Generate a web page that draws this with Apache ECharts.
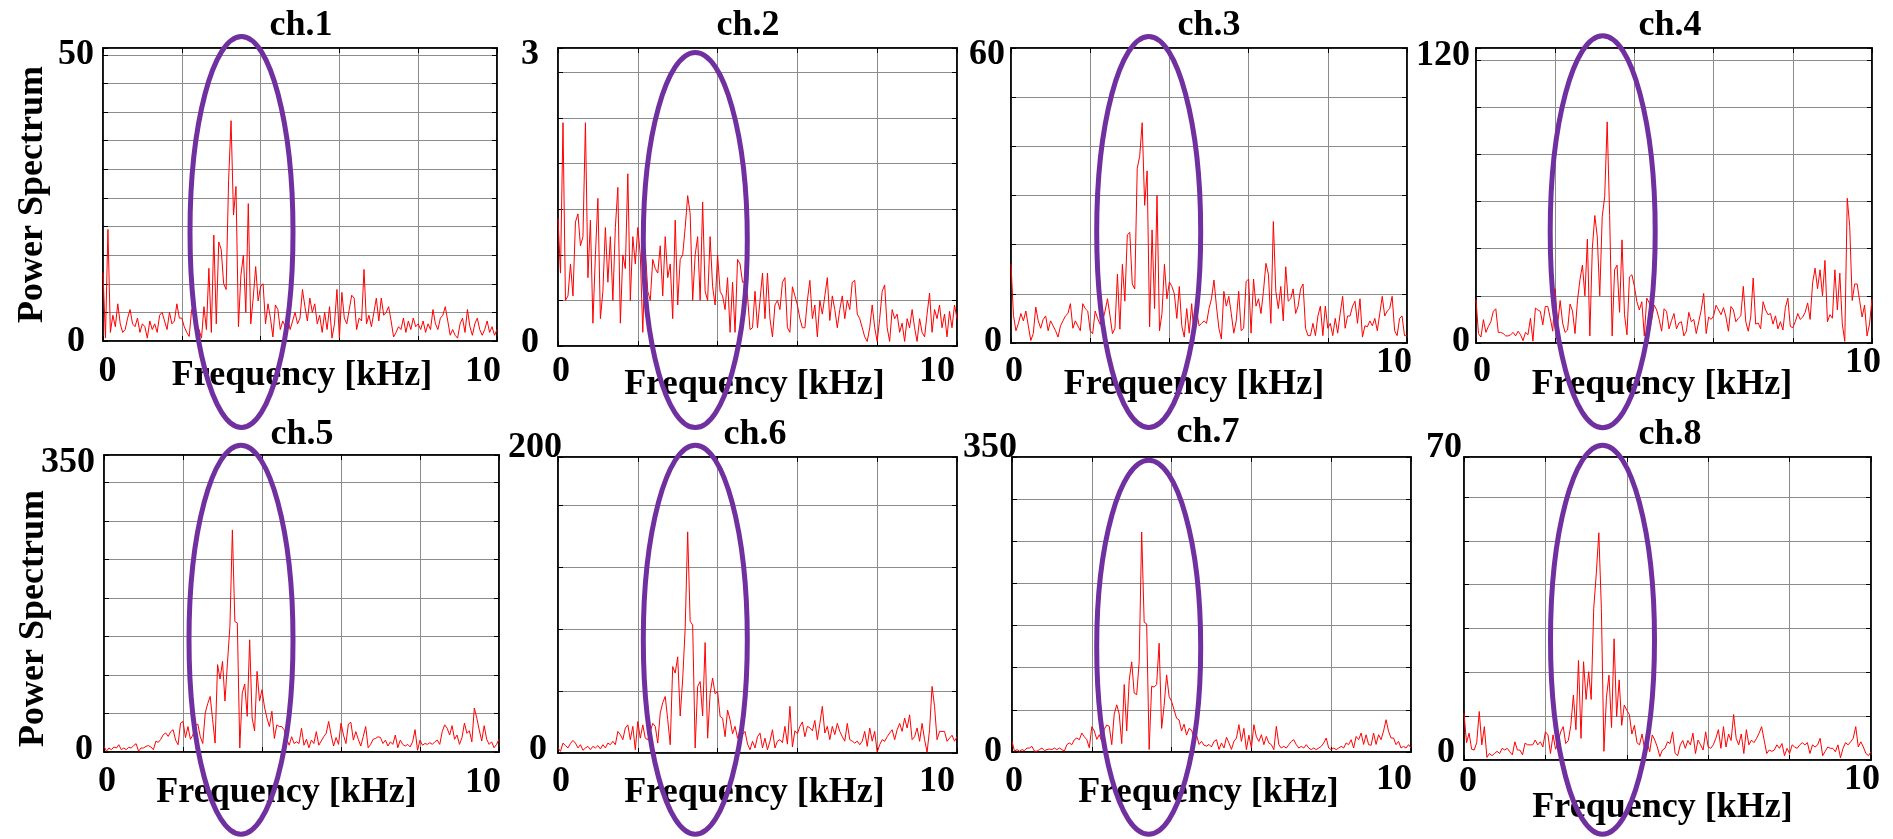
<!DOCTYPE html>
<html><head><meta charset="utf-8">
<script src="https://cdn.jsdelivr.net/npm/echarts@6/dist/echarts.min.js"></script>
<style>html,body{margin:0;padding:0;background:#fff}#c{width:1893px;height:839px}</style>
</head><body><div id="c"></div>
<script>
// ---------------- DATA ----------------
const channelNames = ['ch.1','ch.2','ch.3','ch.4','ch.5','ch.6','ch.7','ch.8'];
const FREQ_MAX = 10;             // kHz
const xTickLabels = ['0', '10'];
const xAxisTitle = 'Frequency [kHz]';
const yAxisTitle = 'Power Spectrum';

const ch1 = [12,0.5,19.5,1.5,4.5,2.5,6.5,3,1.5,2,4,5.5,3,2.5,4,1.5,
 3,2.5,0.5,3.5,2,3,1.5,4.5,5,3.5,2,5,3,3.5,6.5,4,
 4,2.5,1.5,0.8,5.5,5,1.5,2,0.5,6,2,12.7,1.5,18.5,3,17.3,
 16,10,9,28,38.5,22,27,2.5,11.5,15,5,24,3,7.5,13,7,
 9.5,10,3,6.5,4,0.7,6.3,5.5,2,3.5,2.5,4,2,3.5,5,3,
 4,9,6,3.5,7.5,5,6.5,3,4.5,1.5,5,2,6,0.5,3,9,
 0.5,8.5,4,3,5.5,8,7.5,2,4,3.5,12.5,3,4.5,2.5,5,7.5,
 3.5,7.5,4.5,5,6,3.5,0.7,1.5,2.5,2,4,1.5,3.5,2,4,2.5,
 3,2,3.5,1.5,3,2,5.5,3,2,4,4.5,6,3.5,1,2,1,
 0.5,3,4,1.5,5.5,2.5,1,3,4,2,1,2,3.5,1.5,2.5,1,2];
const ch2 = [1.4,0.8,2.45,0.5,0.55,0.9,0.55,1.36,1.45,1.1,1.2,2.45,0.75,1.38,0.25,1.0,
 1.62,0.3,0.6,1.3,0.7,1.2,0.5,1.3,1.74,0.25,1.0,0.85,1.89,0.5,1.2,0.9,
 1.3,1.0,0.15,1.07,0.6,0.5,0.95,0.85,0.8,1.1,0.55,1.2,0.75,0.9,0.3,1.38,
 0.45,0.95,1.0,1.3,1.65,1.45,0.5,1.0,1.2,0.5,1.58,0.6,0.5,1.2,0.65,0.45,
 1.0,0.6,0.55,0.4,0.75,0.15,0.7,0.15,0.95,0.9,0.7,0.7,0.55,0.18,0.2,0.6,
 0.2,0.5,0.8,0.3,0.8,0.3,0.1,0.45,0.5,0.4,0.7,0.75,0.2,0.15,0.65,0.55,
 0.45,0.3,0.2,0.2,0.5,0.72,0.3,0.45,0.1,0.5,0.35,0.55,0.75,0.28,0.55,0.4,
 0.2,0.4,0.55,0.3,0.5,0.4,0.7,0.72,0.35,0.3,0.2,0.1,0.05,0.2,0.45,0.2,
 0.05,0.3,0.6,0.67,0.2,0.05,0.4,0.3,0.35,0.15,0.25,0.05,0.3,0.2,0.4,0.2,
 0.05,0.3,0.15,0.1,0.35,0.58,0.15,0.4,0.3,0.45,0.2,0.35,0.1,0.38,0.2,0.45,0.3];
const ch3 = [16,5.6,2.5,4,6,4.5,6.5,3.5,0.5,1.9,7.3,4.5,3,4.8,5.5,2.5,
 4.5,3.5,2.5,1.2,3.5,4.5,5.5,6,8,3,4.5,3.5,2.5,8,7,6.5,
 2.5,1.9,6.5,5,3.8,4.5,6.5,9,5.5,1.9,3,14,2.8,16,8.5,22,
 22.5,12,11,35.5,38,44.8,28,35,3.3,23,7,30,2.5,6,16,9,
 12.4,11.5,10,5,11.5,3.5,1.2,7,2,8,1.2,6.5,3.5,4,4.5,4,
 7,9,12.8,7.5,3,0.8,10.5,7.5,9.5,6,2,4.5,10.5,2.5,3,12.5,
 13,2,13,7.5,9,6,10.5,16.2,14,4,24.7,10.5,7,11.5,4.5,15.5,
 8.5,9,11,6,7.5,11,12,3,1.5,1.5,4,1.5,5.5,7.5,1.5,7.5,
 3,4,1.5,5,2,6,9.5,3,5.5,5.5,7.5,8.5,4,9,1.2,3.5,
 3.3,4.5,3.5,5,2.5,6,9.5,5.5,6.5,7,9.5,2.5,1.5,5,5.5,1.5,1.5];
const ch4 = [18.3,4,2.5,9.9,4.5,7,9,13.4,14.5,4.5,4.5,4,3,3,3.5,4.5,
 3,5,3.5,1,4.5,3.5,10.5,0.8,14.8,14,13.4,7.7,15.5,15.5,10.5,5,
 23,8,18,8.5,4.5,5.5,16.5,13.5,4,18,26.8,33,20,44,3,40,
 54,45,20,53.5,62,93.7,54,3,31,33,13,43.7,12,3.5,28,28.9,
 24,17.5,14,17.5,3,19,17,10,16,14,10,5,14.5,13.4,6,9.5,
 12.5,6,8.5,9,3,5,13,9,10,4,9,14,21,4,11,10,
 11.5,16,14,12,15,11,5,15.5,14,9,10.5,11.5,24,9,5,11,
 27.5,8,8.5,6,17.5,14,12,12.5,8,11.5,6,9,5.5,15,19,7,
 6.5,9,12.5,10,11,13,17,10,25.4,31.7,23,31,20,35,9,12,
 10.5,31,14,29.6,8,0.7,61.3,49.3,18,25,25,18,11,16,3,8,18.5];
const ch5 = [6.7,1,4.7,2.7,5.9,4.7,8.6,2.7,4.7,2.7,5.5,4.7,7.5,9.8,1,4.7,
 4.7,6.7,7.5,5.9,2.7,12.6,11.4,15,20.4,22.4,18.4,24,26.3,14,8.6,34,
 36,17,30,15,20,31,33,18,10,46,57,65.5,38,10.5,103,86,
 106.7,60,104.7,148,261.7,153.8,152,4.7,69.4,80,42,132.2,40,25,95,60,
 73.4,53,40,30,48,16,32,30,30,26,15,8,18,10,12,10,
 28,8,15,5,14,10,24,8,13,18,22,36,20,7,17,9,
 34,20,10,33,35,14,24,15,7,18,30,5,9,15,16,18,
 17,10,14,7,12,9,20,5,14,9,7,9,6,12,26.3,2,
 14,8,10,9,11,9,12,14,9,24,32,28,20,31,15,20,
 9,17,34,22,25,12,51.8,40,26,13,31,15,9,12,5,9,15];
const ch6 = [3.4,1.1,6.7,5,3.4,6.5,8.5,6.7,3.4,5.6,1.8,3.4,4.5,2.3,4.5,3.4,
 5,2.7,5.6,3.4,6.7,5.6,7.9,5.6,14.6,12.4,9,16.9,19,9,18,2.2,
 21.3,10,19,10,9,14.6,20,18,6.7,27,34,38.2,22.5,5.6,58.4,54,
 65,25,50,84.3,149.4,89,86.5,3.4,45,48.3,25,74.6,10,40,50.6,40,
 41.6,24.7,23.5,11,29,22.5,13,18,10,15.7,12.4,14.6,6,2.2,7.9,3.4,
 11,13.5,3.4,10,2.2,8,15.7,3.4,8,9,7,18,6,31.5,4,15,
 13,18,21,11,18,17,15,22,9,20,31.5,13.5,18,9,18,12.4,
 20,14.6,11,8,20,9,8,6.7,8,5.6,8,14.6,4.5,16.9,8,14.6,
 0.5,5.6,9,7.9,11,13.5,15.7,9,15.7,20,14.6,23.6,16.9,25.8,9,11,
 16.9,7.9,20,9,0.5,15.7,45,31.5,9,14.6,14.6,14.6,7.9,10,12,8,11];
const ch7 = [12.6,1,2.8,1,2.8,1.6,4.7,4.7,6.7,1,1,2.8,4.7,1.6,2.8,3.6,
 2.8,4.7,2.8,4.7,2.8,1,8.7,10.7,8.7,14.6,16.6,14.6,22.5,18,14.6,5,
 30,25,15,20.5,12.6,27,32,30.4,8.7,45,56,45,10,80,25,85,
 107,70,68,107,261,154,152,3,78,77,80,129,28,55,91.5,66,
 60,50,40,38,25,33,20,28,26,16.6,20,9,12.6,8,7,9,
 6,12.6,14.6,3,10.7,4.7,17.5,10.7,3,12.6,16.6,32.4,12.6,28,2.8,20,
 4.7,32.4,18,12.6,20.5,8.7,18.5,10.7,8.7,2.8,30.4,8.7,4.7,6.7,4.7,8.7,
 12.6,14.6,8.7,4.7,6.7,4.7,8.7,4.7,2.8,4.7,2.8,4.7,6.7,10.7,16.6,4.7,
 2.8,4.7,2.8,4.7,6.7,4.7,10.7,8.7,14.6,4.7,18.5,14.6,22.5,9,20.5,8.7,
 8,22.5,9,20.5,14.6,25,38.3,24.5,16.6,16.6,8.7,12.6,4.7,6.7,4.7,8.7,4.7];
const ch8 = [10.8,4,6.2,2.5,2.3,4,11.2,3.5,7.7,0.6,1.5,1,1.5,2,1.5,2.7,
 2.3,2.7,1.9,1.2,4.2,2.3,2.3,1.2,3.9,3.5,3.5,3.5,4.6,3.5,4.2,3,
 6.5,5.8,1.5,5.8,2.5,4.2,6.5,7.7,3.8,4.5,8,15,7,23,5,22.7,
 14,20.4,14,35,43,52.5,35,2,14.5,19.6,7.5,28,10,18.5,8,12.7,
 11.5,10.5,6,8,4,3.5,6,2.5,4.2,1.9,5.8,4.6,3,0.8,2.3,2.7,
 4.2,3.8,6.5,1.5,1,3.5,4.5,2.7,4.5,3.5,6.2,1.5,4.6,3.5,2.3,6.5,
 3,2.7,3.5,5,7,2.7,7.7,3,6,4.5,10.5,5,3.5,6,1.5,7,
 3.5,4.6,4,5,6.2,7.7,4.6,1.5,2.3,2,2.3,3.5,2.7,3.8,1,2.7,
 1.5,3.5,3,2.7,3.5,4,3.5,4,1.5,3.5,3,3.5,5,1,2,3,
 2.7,2.7,1.9,3.5,0.5,2.7,4,3.5,4.2,5,7.7,3,4.2,3,1.5,1,1.9];
const spectra = [ch1, ch2, ch3, ch4, ch5, ch6, ch7, ch8];

// y axis extents, grid steps and the labelled top tick of every panel
const yMax = [51.2, 3.27, 60, 125, 350, 200, 350, 70];
const yStep = [5, 0.5, 10, 20, 45.35, 41.9, 50, 10.13];
const yTopLabel = ['50', '3', '60', '120', '350', '200', '350', '70'];
const yTopAt = [50, 3.27, 60, 120, 350, 200, 350, 70];

// ---------------- LAYOUT ----------------
const LAYOUT = [
 {g:[103,48,394,293],  t:[301,26],  yl:[9,0,18,1],   xl:[4.5,31,-14,31], ng:17, nd:2,   yn:true, ynp:0},
 {g:[558,48,399,298],  t:[748,26],  yl:[19,7,19,-3], xl:[3,26,-20,26],   ng:21, nd:-3},
 {g:[1011,48,396,295], t:[1209,26], yl:[6,7,9,-1],   xl:[3,29,-13,20],   ng:24, nd:-15},
 {g:[1476,48,396,295], t:[1670,26], yl:[6,-4,6,-1],  xl:[6,29,-9,20],    ng:24, nd:-12},
 {g:[104,455,395,297], t:[302,435], yl:[9,8,11,-2],  xl:[3,30,-16,31],   ng:23, nd:-15, yn:true, ynp:15},
 {g:[558,457,399,296], t:[755,435], yl:[-4,-9,11,-3],xl:[3,29,-20,29],   ng:22, nd:-3},
 {g:[1012,457,399,295],t:[1208,433],yl:[-5,-9,10,0], xl:[2,30,-17,28],   ng:23, nd:-3},
 {g:[1464,457,407,303],t:[1670,435],yl:[2,-9,9,-7],  xl:[4,22,-9,20],    ng:30, nd:-5}
];
const ELLIPSES = [
 [241.5,232,51.5,195.5],[695.3,240,52,187.5],[1148.7,232,52,195.5],[1602.7,231.7,52.5,196],
 [241,639.7,52,194.5],[695.3,639.7,52,194.5],[1148.7,647.2,52,187],[1602.5,639.7,52,194.5]
];

const FS = 36;
const FONT = {fontFamily:'Liberation Serif', fontWeight:'bold', fontSize:FS, color:'#000'};
const GRIDC = '#8c8c8c';

function hPad(dx){ return dx >= 0 ? [0,0,0,2*dx] : [0,-2*dx,0,0]; }

const N = spectra[0].length;
const freq = Array.from({length:N}, (_, i) => i * FREQ_MAX / (N - 1));

const option = {animation:false, backgroundColor:'#fff', grid:[], title:[], xAxis:[], yAxis:[], series:[], graphic:[]};

LAYOUT.forEach((L, p) => {
  option.grid.push({left:L.g[0], top:L.g[1], width:L.g[2], height:L.g[3], show:true,
    borderColor:'#000', borderWidth:1.5, backgroundColor:'transparent'});
  option.title.push({text:channelNames[p], left:L.t[0], top:L.t[1]-FS/2, textAlign:'center',
    padding:0, textStyle:Object.assign({}, FONT)});

  const [x0dx, x0dy, x1dx, x1dy] = L.xl;
  const xPadA = hPad(x0dx); xPadA[0] = Math.max(0, x0dy - FS/2);
  const xPadB = hPad(x1dx); xPadB[0] = Math.max(0, x1dy - FS/2);
  option.xAxis.push({
    gridIndex:p, type:'value', min:0, max:FREQ_MAX, interval:2, position:'bottom',
    axisLine:{show:true, onZero:false, lineStyle:{color:'#000', width:1.5}},
    axisTick:{show:true, inside:true, length:5, lineStyle:{color:'#000', width:1}},
    splitLine:{show:true, lineStyle:{color:GRIDC, width:1}},
    axisLabel:{show:true, margin:0, ...FONT,
      formatter:v => v === 0 ? '{a|' + xTickLabels[0] + '}' : (v === FREQ_MAX ? '{b|' + xTickLabels[1] + '}' : ''),
      rich:{a:Object.assign({padding:xPadA}, FONT), b:Object.assign({padding:xPadB}, FONT)}},
    name:xAxisTitle, nameLocation:'middle', nameGap:L.ng, nameMoveOverlap:false,
    nameTextStyle:Object.assign({padding:hPad(L.nd)}, FONT)
  });
  option.xAxis.push({
    gridIndex:p, type:'value', min:0, max:FREQ_MAX, interval:2, position:'top',
    axisLine:{show:true, onZero:false, lineStyle:{color:'#000', width:1.5}},
    axisTick:{show:true, inside:true, length:5, lineStyle:{color:'#000', width:1}},
    splitLine:{show:false}, axisLabel:{show:false}
  });

  const [tg, td, zg, zd] = L.yl;
  const M = -6;
  const padT = [td > 0 ? 2*td : 0, tg - M, td < 0 ? -2*td : 0, 0];
  const padZ = [zd > 0 ? 2*zd : 0, zg - M, zd < 0 ? -2*zd : 0, 0];
  const yAx = {
    gridIndex:p, type:'value', min:0, max:yMax[p], interval:yStep[p], position:'left',
    axisLine:{show:true, onZero:false, lineStyle:{color:'#000', width:1.5}},
    axisTick:{show:true, inside:true, length:5, lineStyle:{color:'#000', width:1}},
    splitLine:{show:true, lineStyle:{color:GRIDC, width:1}},
    axisLabel:{show:true, margin:M, ...FONT,
      formatter:v => v === 0 ? '{z|0}' : (Math.abs(v - yTopAt[p]) < 1e-9 ? '{t|' + yTopLabel[p] + '}' : ''),
      rich:{t:Object.assign({padding:padT}, FONT), z:Object.assign({padding:padZ}, FONT)}}
  };
  if (L.yn) {
    yAx.name = yAxisTitle; yAx.nameLocation = 'middle'; yAx.nameGap = 52; yAx.nameMoveOverlap = false;
    yAx.nameTextStyle = Object.assign({padding:[0, 2*L.ynp, 0, 0]}, FONT);
  }
  option.yAxis.push(yAx);
  option.yAxis.push({
    gridIndex:p, type:'value', min:0, max:yMax[p], interval:yStep[p], position:'right',
    axisLine:{show:true, onZero:false, lineStyle:{color:'#000', width:1.5}},
    axisTick:{show:true, inside:true, length:5, lineStyle:{color:'#000', width:1}},
    splitLine:{show:false}, axisLabel:{show:false}
  });

  option.series.push({
    type:'line', xAxisIndex:2*p, yAxisIndex:2*p, showSymbol:false, symbol:'none',
    lineStyle:{color:'#ff0000', width:1}, silent:true, z:3,
    data:freq.map((f, i) => [f, spectra[p][i]])
  });
});

option.graphic = ELLIPSES.map(e => ({
  type:'ellipse', z:100, silent:true,
  shape:{cx:e[0], cy:e[1], rx:e[2], ry:e[3]},
  style:{fill:'none', stroke:'#7030A0', lineWidth:5}
}));

const chart = echarts.init(document.getElementById('c'), null, {renderer:'canvas'});
chart.setOption(option);
</script>
</body></html>
